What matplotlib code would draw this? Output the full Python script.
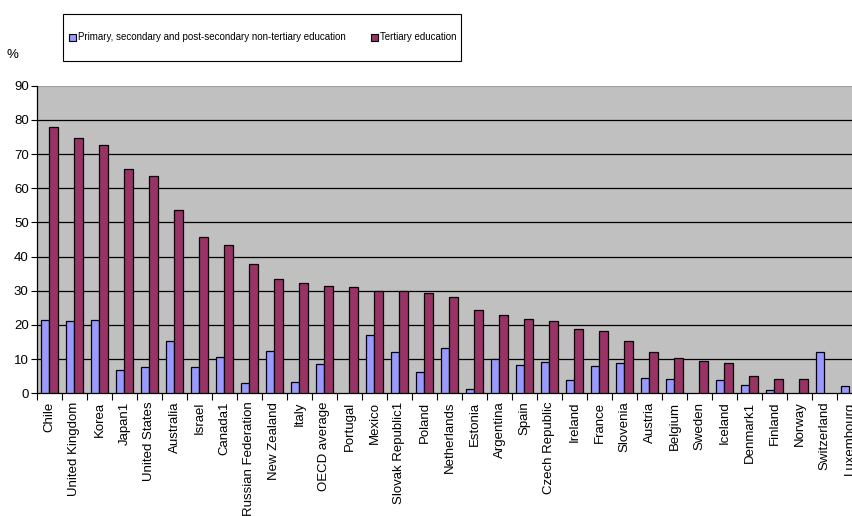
import numpy as np
import matplotlib
matplotlib.use("Agg")
import matplotlib.pyplot as plt
from matplotlib.patches import Rectangle, Patch

countries = ["Chile", "United Kingdom", "Korea", "Japan1", "United States", "Australia",
             "Israel", "Canada1", "Russian Federation", "New Zealand", "Italy", "OECD average",
             "Portugal", "Mexico", "Slovak Republic1", "Poland", "Netherlands", "Estonia",
             "Argentina", "Spain", "Czech Republic", "Ireland", "France", "Slovenia", "Austria",
             "Belgium", "Sweden", "Iceland", "Denmark1", "Finland", "Norway", "Switzerland",
             "Luxembourg"]
primary = [21.5, 21.3, 21.5, 6.8, 7.8, 15.3, 7.6, 10.6, 3.1, 12.5, 3.2, 8.5,
           np.nan, 17.2, 12.0, 6.1, 13.3, 1.2, 10.1, 8.3, 9.2, 4.0, 8.1, 8.8, 4.6,
           4.1, np.nan, 3.8, 2.4, 0.9, np.nan, 12.0, 2.2]
tertiary = [77.9, 74.6, 72.7, 65.5, 63.6, 53.5, 45.8, 43.5, 37.8, 33.5, 32.4, 31.4,
            31.0, 30.0, 29.8, 29.3, 28.2, 24.5, 22.8, 21.8, 21.3, 18.9, 18.1, 15.3, 12.0,
            10.2, 9.5, 8.8, 5.1, 4.1, 4.1, np.nan, np.nan]
labels = ["Primary, secondary and post-secondary non-tertiary education", "Tertiary education"]

FONT = ["Liberation Sans", "DejaVu Sans"]
W, H = 853, 516
fig = plt.figure(figsize=(W / 100, H / 100), dpi=100)
fig.patch.set_facecolor("white")

n = len(countries)
left_px, right_px, top_px, bot_px = 37, 37 + 25 * n, 85.7, 393.3
ax = fig.add_axes([left_px / W, 1 - bot_px / H, (right_px - left_px) / W, (bot_px - top_px) / H])
ax.set_facecolor("#C0C0C0")

x = np.arange(n)
bw = 1 / 3
c_blue = "#9999FF"
c_red = "#993366"
ax.bar(x - bw, primary, width=bw, align="edge", color=c_blue, edgecolor="black", linewidth=0.9, zorder=3)
ax.bar(x, tertiary, width=bw, align="edge", color=c_red, edgecolor="black", linewidth=0.9, zorder=3)

ax.set_xlim(-0.5, n - 0.5)
ax.set_ylim(0, 90)
ax.set_yticks(np.arange(0, 91, 10))
ax.tick_params(axis="y", direction="out", length=4, width=0.8, labelsize=9.5, pad=2, colors="black")
for v in range(10, 91, 10):
    ax.axhline(v, color="black" if v < 90 else "#A0A0A0", linewidth=0.9, zorder=1)

ax.set_xticks(x)
ax.set_xticklabels(countries, rotation=90, fontsize=9.5, va="top", ha="center")
ax.tick_params(axis="x", which="major", length=0, pad=6)
ax.set_xticks(np.arange(n + 1) - 0.5, minor=True)
ax.tick_params(axis="x", which="minor", direction="out", length=5, width=0.8)

for s in ["top", "right"]:
    ax.spines[s].set_visible(False)
for s in ["left", "bottom"]:
    ax.spines[s].set_color("black")
    ax.spines[s].set_linewidth(0.9)

for lab in ax.get_xticklabels() + ax.get_yticklabels():
    lab.set_fontfamily(FONT)

fig.text(12 / W, 1 - 55 / H, "%", fontsize=9.5, ha="center", va="center", family=FONT)

# legend box
fig.patches.append(Rectangle((63 / W, 1 - 61 / H), (461 - 63) / W, (61 - 14) / H,
                             transform=fig.transFigure, facecolor="white",
                             edgecolor="black", linewidth=0.8, zorder=5))
handles = [Patch(facecolor=c_blue, edgecolor="black", linewidth=0.8),
           Patch(facecolor=c_red, edgecolor="black", linewidth=0.8)]
leg = fig.legend(handles, labels, loc="center", bbox_to_anchor=(263 / W, 1 - 37.5 / H),
                 ncol=2, frameon=False, handlelength=0.7, handleheight=0.7,
                 handletextpad=0.25, columnspacing=2.6,
                 prop={"family": FONT, "size": 7})
leg.set_zorder(6)

fig.savefig("out.png", dpi=100)
